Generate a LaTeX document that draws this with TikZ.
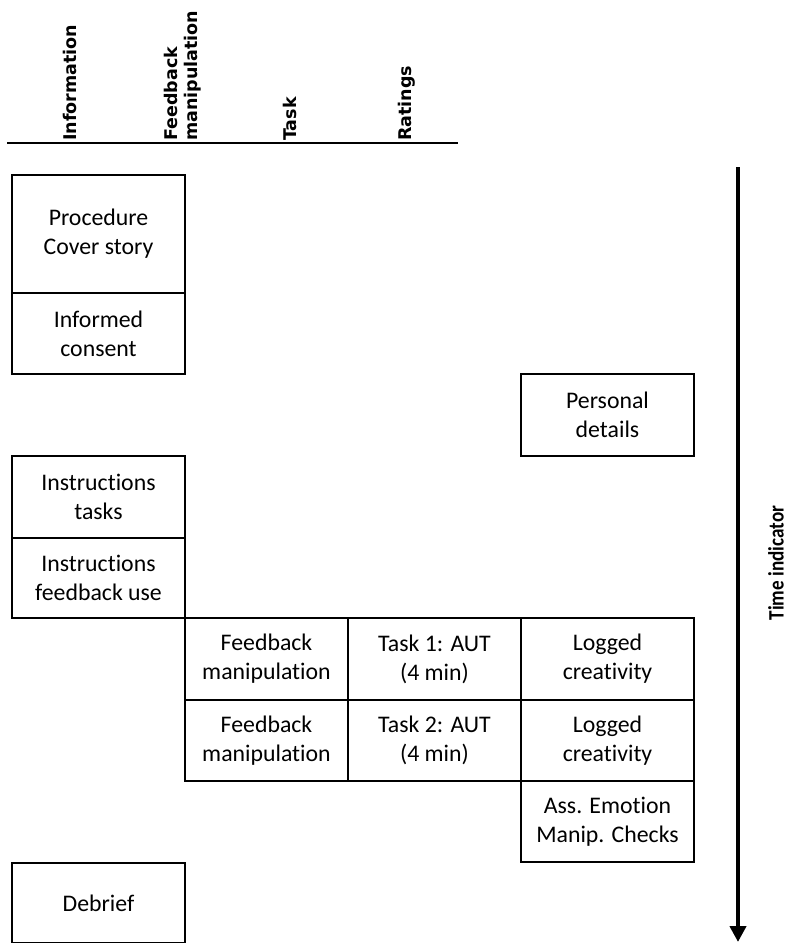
\documentclass[tikz,border=0pt]{standalone}
\usepackage{fontspec}
\setmainfont{Carlito}[Ligatures=NoCommon]
\newfontfamily\headfont{DejaVu Sans}
\newfontfamily\sidefont[FakeStretch=0.87]{Carlito}
\usetikzlibrary{arrows.meta}

\tikzset{
  cell/.style={draw, line width=2pt, inner sep=0pt, align=center,
               anchor=north west, font=\fontsize{23.8}{29}\selectfont},
  colA/.style={cell, minimum width=173pt},
  colB/.style={cell, minimum width=163pt},
  colC/.style={cell, minimum width=173pt},
  colD/.style={cell, minimum width=173pt},
  head/.style={rotate=90, anchor=base west, inner sep=0pt,
               font=\headfont\bfseries\fontsize{17.5}{20}\selectfont},
  timeline/.style={line width=4pt, -{Triangle[width=16pt,length=16pt]}},
}

\begin{document}
\begin{tikzpicture}[x=1pt, y=-1pt]
  \useasboundingbox (0,0) rectangle (790,943);

  % column headings above the rule
  \node[head] (hInfo) at (76,141) {Information};
  \node[head] (hFeedA) at (177,141) {Feedback};
  \node[head] (hFeedB) at (197,141) {manipulation};
  \node[head] (hTask) at (296,141) {Task};
  \node[head] (hRate) at (411,141) {Ratings};
  \coordinate (ruleL) at (7,143);
  \coordinate (ruleR) at (458,143);
  \draw[line width=2pt] (ruleL) -- (ruleR);

  % information column
  \node[colA, minimum height=118pt] (proc) at (11,174) {Procedure\\Cover story};
  \node[colA, minimum height=81pt] (consent) at (11,292) {Informed\\consent};
  \node[colA, minimum height=82pt] (instrT) at (11,455) {Instructions\\tasks};
  \node[colA, minimum height=80pt] (instrF) at (11,537) {Instructions\\feedback use};
  \node[colA, minimum height=80pt] (debrief) at (11,862) {Debrief};

  % feedback manipulation column
  \node[colB, minimum height=82pt] (fb1) at (184,617) {Feedback\\manipulation};
  \node[colB, minimum height=81pt] (fb2) at (184,699) {Feedback\\manipulation};

  % task column
  \node[colC, minimum height=82pt] (task1) at (347,617) {Task 1: AUT\\(4 min)};
  \node[colC, minimum height=81pt] (task2) at (347,699) {Task 2: AUT\\(4 min)};

  % ratings column
  \node[colD, minimum height=82pt] (pers) at (520,373) {Personal\\details};
  \node[colD, minimum height=82pt] (log1) at (520,617) {Logged\\creativity};
  \node[colD, minimum height=81pt] (log2) at (520,699) {Logged\\creativity};
  \node[colD, minimum height=81pt] (emo) at (520,780) {Ass. Emotion\\Manip. Checks};

  % time axis
  \coordinate (tTop) at (738,167);
  \coordinate (tEnd) at (738,942);
  \draw[timeline] (tTop) -- (tEnd);
  \node[rotate=90, inner sep=0pt, font=\sidefont\bfseries\fontsize{22}{24}\selectfont]
    (tLabel) at (776,563) {Time indicator};
\end{tikzpicture}
\end{document}
